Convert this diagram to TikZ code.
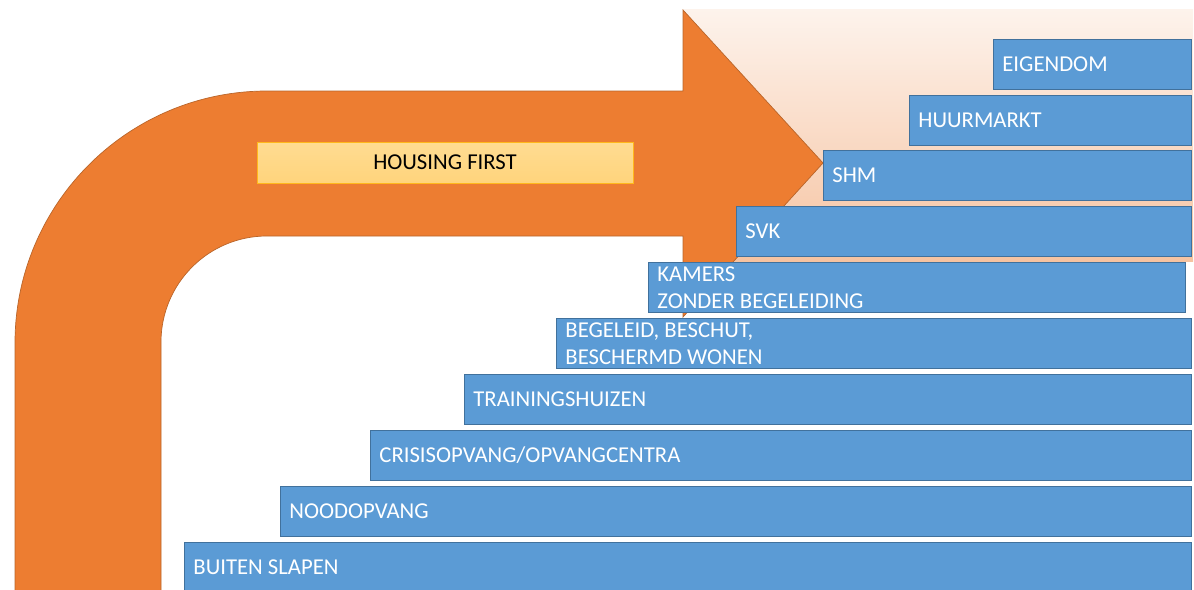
\documentclass[tikz,border=0pt]{standalone}
\usepackage{fontspec}
\setmainfont{Carlito}
\definecolor{boxblue}{HTML}{5B9BD5}
\definecolor{boxedge}{HTML}{41719C}
\definecolor{arroworange}{HTML}{ED7D31}
\definecolor{arrowedge}{HTML}{B9652A}
\definecolor{peachtop}{HTML}{FDF3EC}
\definecolor{peachbot}{HTML}{F6C3A1}
\definecolor{hftop}{HTML}{FFDC92}
\definecolor{hfbot}{HTML}{FFD47C}
\definecolor{hfedge}{HTML}{FFB81C}
\begin{document}
\begin{tikzpicture}[x=1pt,y=-1pt,
  stair/.style={draw=boxedge, line width=0.8pt, fill=boxblue, text=white,
    anchor=north west, minimum height=50pt, inner xsep=9pt, inner ysep=0pt,
    align=flush left, font=\fontsize{22.7}{27}\selectfont},
  hfbox/.style={draw=hfedge, line width=0.8pt, top color=hftop, bottom color=hfbot,
    minimum width=376pt, minimum height=41pt, inner sep=0pt,
    font=\fontsize{22.7}{27}\selectfont, text=black}]
\useasboundingbox (0,0) rectangle (1194,589);
\clip (0,0) rectangle (1194,589);
% peach gradient background
\fill[top color=peachtop, bottom color=peachbot] (683,9) rectangle (1193,261);
% bent arrow
\draw[fill=arroworange, draw=arrowedge, line width=0.7pt, line join=miter]
  (15,600) -- (15,343) .. controls (15,204) and (128,91) .. (267,91)
  -- (683,91) -- (683,10) -- (823,163) -- (683,317) -- (683,236) -- (267,236)
  .. controls (208,236) and (161,284) .. (161,342) -- (161,600) -- cycle;
% housing first label
\node[hfbox] (hf) at (445,162.5) {HOUSING FIRST};
% stairs
\node[stair, text width=180pt] (eig) at (993,39) {EIGENDOM};
\node[stair, text width=264pt] (huur) at (909,95) {HUURMARKT};
\node[stair, text width=350pt] (shm) at (823,150) {SHM};
\node[stair, text width=437pt] (svk) at (736,206) {SVK};
\node[stair, text width=519pt] (kam) at (648,262) {KAMERS\\ZONDER BEGELEIDING};
\node[stair, text width=617pt] (beg) at (556,318) {BEGELEID, BESCHUT,\\BESCHERMD WONEN};
\node[stair, text width=709pt] (tra) at (464,374) {TRAININGSHUIZEN};
\node[stair, text width=803pt] (cri) at (370,430) {CRISISOPVANG/OPVANGCENTRA};
\node[stair, text width=893pt] (noo) at (280,486) {NOODOPVANG};
\node[stair, text width=989pt] (bui) at (184,542) {BUITEN SLAPEN};
\end{tikzpicture}
\end{document}
